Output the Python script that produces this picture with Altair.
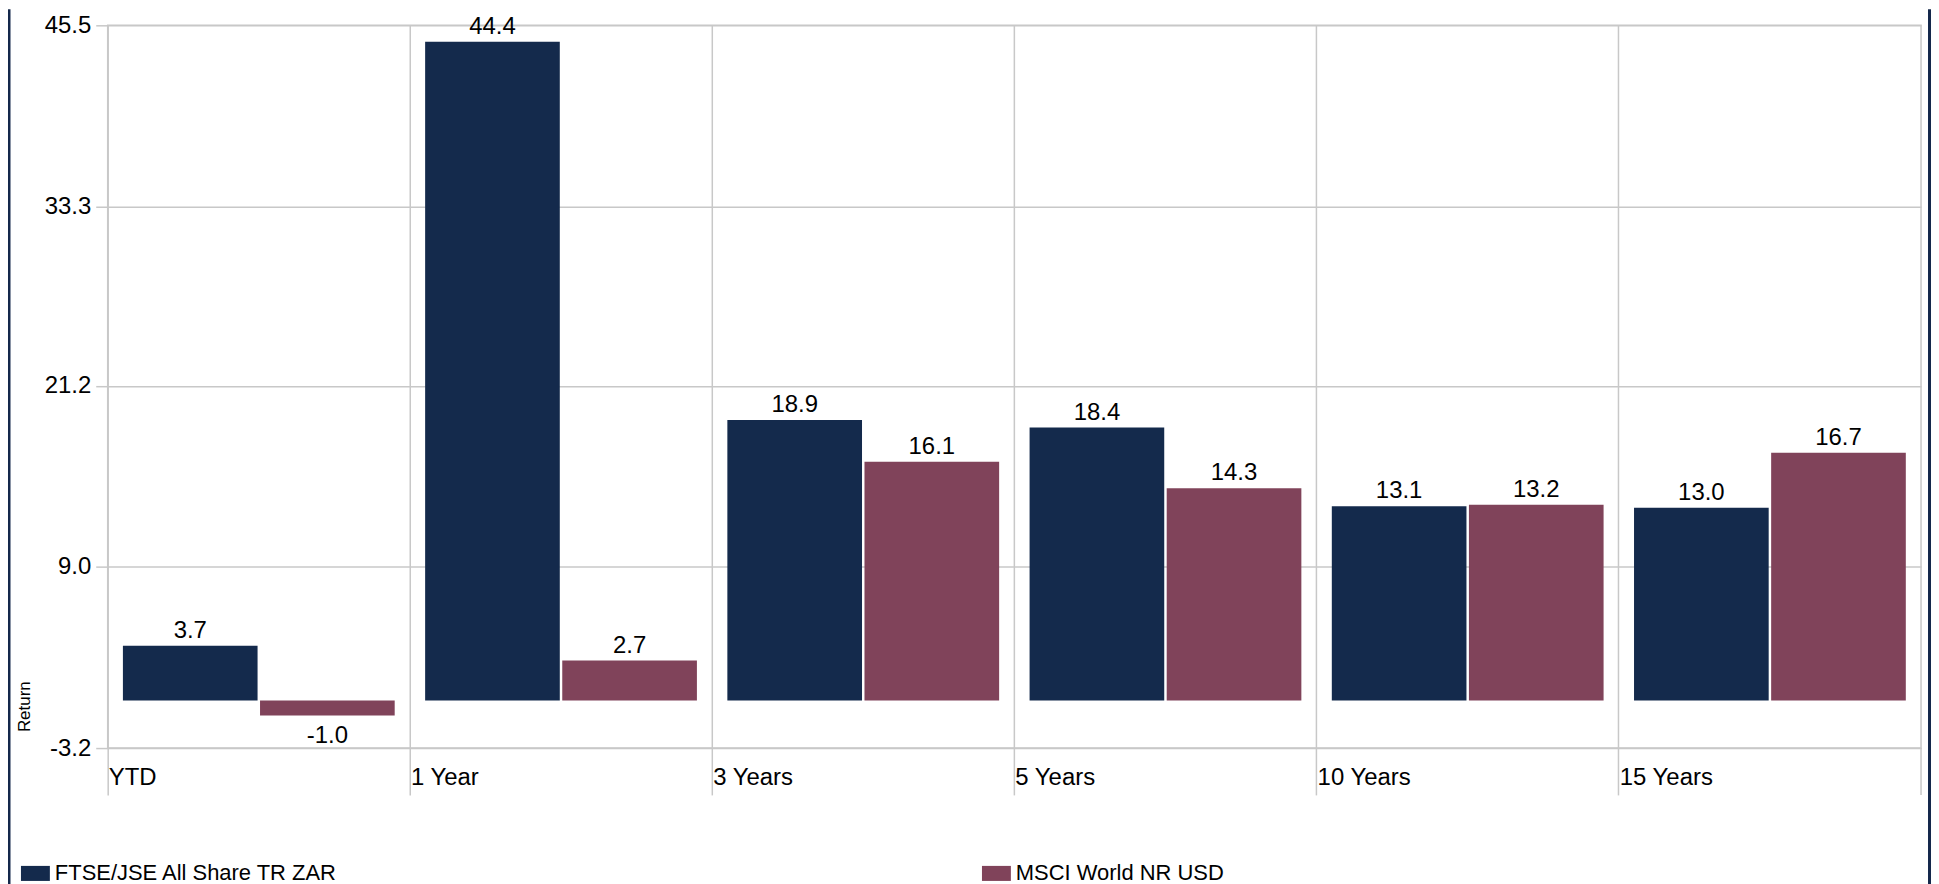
import altair as alt
import pandas as pd

categories = ["YTD", "1 Year", "3 Years", "5 Years", "10 Years", "15 Years"]
series = ["FTSE/JSE All Share TR ZAR", "MSCI World NR USD"]
ftse_values = [3.7, 44.4, 18.9, 18.4, 13.1, 13.0]
msci_values = [-1.0, 2.7, 16.1, 14.3, 13.2, 16.7]
y_ticks = [-3.2, 9.0, 21.2, 33.3, 45.5]
colors = ["#142a4c", "#80435a"]

rows = []
for name, vals in zip(series, [ftse_values, msci_values]):
    for c, v in zip(categories, vals):
        rows.append({"period": c, "series": name, "value": v})
df = pd.DataFrame(rows)

FONT = "Liberation Sans"
GRID = "#c8c8c8"
W, H = 1819, 725

x_enc = alt.X(
    "period:N",
    sort=categories,
    scale=alt.Scale(paddingInner=0, paddingOuter=0),
    axis=alt.Axis(
        title=None, bandPosition=0, grid=True, gridColor=GRID, gridWidth=1.5,
        ticks=True, tickSize=47, tickColor=GRID, tickWidth=1.5, domain=False,
        labelAlign="left", labelBaseline="middle", labelPadding=-17,
        labelOffset=-W / 12 + 1,
        labelFontSize=24, labelColor="#000000", labelFont=FONT, labelAngle=0,
    ),
)
xoff_enc = alt.XOffset(
    "series:N", sort=series,
    scale=alt.Scale(paddingInner=0.018, paddingOuter=0.111),
)
y_scale = alt.Scale(domain=[-3.2, 45.5], nice=False, zero=False)
y_enc = alt.Y(
    "value:Q",
    scale=y_scale,
    stack=None,
    axis=alt.Axis(
        title="Return", values=y_ticks, format=".1f",
        labelExpr="replace(datum.label, '\u2212', '-')", grid=True,
        gridColor=GRID, gridWidth=1.5, tickSize=12, tickColor=GRID,
        tickWidth=1.5, labelPadding=5, labelFontSize=24, labelFont=FONT,
        labelColor="#000000", domain=False, titleFontSize=17,
        titleFontWeight="normal", titleFont=FONT, titleColor="#000000",
        titleX=-83, titleY=683, titleAngle=270, titleAlign="center",
        titleBaseline="middle",
    ),
)
color_enc = alt.Color(
    "series:N",
    sort=series,
    scale=alt.Scale(domain=series, range=colors),
    legend=alt.Legend(
        title=None, orient="none", legendX=-87, legendY=836,
        direction="horizontal", columns=2, columnPadding=646,
        symbolType="M-1,-0.52H1V0.52H-1Z", symbolSize=841,
        symbolStrokeWidth=0, symbolOpacity=1, labelFontSize=22,
        labelOffset=5, labelFont=FONT, labelColor="#000000", labelLimit=0,
    ),
)

base = alt.Chart(df).transform_calculate(
    label="replace(format(datum.value, '.1f'), '\u2212', '-')"
)

bars = base.mark_bar(opacity=1).encode(
    x=x_enc, xOffset=xoff_enc, y=y_enc, y2=alt.datum(0), color=color_enc,
)

pos_text = base.transform_filter("datum.value >= 0").mark_text(
    baseline="alphabetic", dy=-8, fontSize=24, font=FONT, color="#000000",
).encode(
    x=x_enc, xOffset=xoff_enc, y=alt.Y("value:Q", scale=y_scale),
    text="label:N",
)
neg_text = base.transform_filter("datum.value < 0").mark_text(
    baseline="alphabetic", dy=28, fontSize=24, font=FONT, color="#000000",
).encode(
    x=x_enc, xOffset=xoff_enc, y=alt.Y("value:Q", scale=y_scale),
    text="label:N",
)

frame_data = alt.Data(values=[{"k": 1}])
end_tick = alt.Chart(frame_data).mark_rule(color=GRID, strokeWidth=1.5).encode(
    x=alt.value(W), y=alt.value(H), y2=alt.value(H + 47)
)
left_line = alt.Chart(frame_data).mark_rule(color="#14284b", strokeWidth=3).encode(
    x=alt.value(-99), y=alt.value(-16), y2=alt.value(880)
)
right_line = alt.Chart(frame_data).mark_rule(color="#14284b", strokeWidth=3).encode(
    x=alt.value(W + 8.5), y=alt.value(-16), y2=alt.value(880)
)

chart = alt.layer(bars, pos_text, neg_text, end_tick, left_line, right_line).properties(
    width=W,
    height=H,
    autosize=alt.AutoSizeParams(type="none"),
    padding={"left": 100, "top": 16, "right": 10, "bottom": 135},
    background="#ffffff",
).configure_view(stroke=GRID, strokeWidth=1.5)

chart.save("out.html", embed_options={"renderer": "svg", "actions": False})
